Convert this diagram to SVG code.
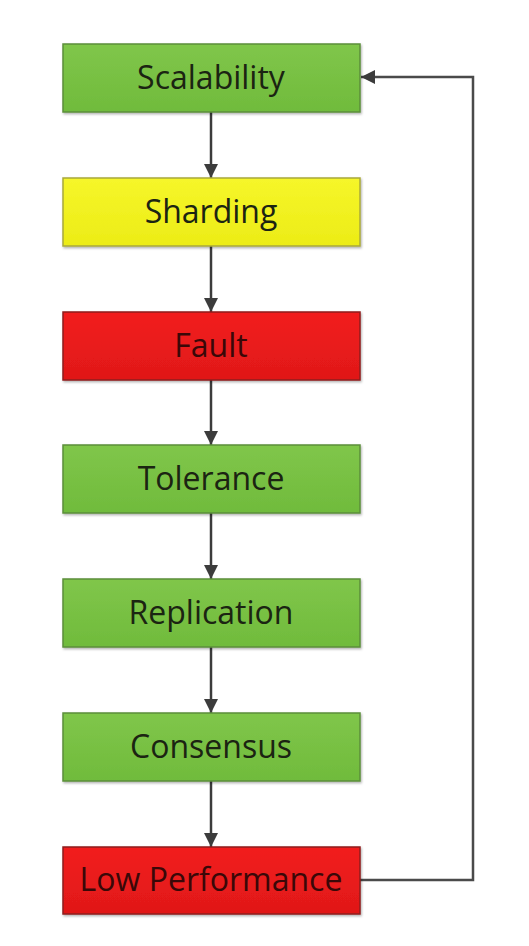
<svg xmlns="http://www.w3.org/2000/svg" width="529" height="946" viewBox="0 0 529 946">
<defs>
<linearGradient id="gG" x1="0" y1="0" x2="0" y2="1"><stop offset="0" stop-color="#80c64a"/><stop offset="1" stop-color="#70bb3c"/></linearGradient>
<linearGradient id="gY" x1="0" y1="0" x2="0" y2="1"><stop offset="0" stop-color="#f6f62a"/><stop offset="1" stop-color="#ecec16"/></linearGradient>
<linearGradient id="gR" x1="0" y1="0" x2="0" y2="1"><stop offset="0" stop-color="#f21e1e"/><stop offset="1" stop-color="#e01818"/></linearGradient>
<marker id="ah" viewBox="0 0 14 14" refX="14" refY="7" markerWidth="14" markerHeight="14" markerUnits="userSpaceOnUse" orient="auto">
<path d="M0,0 L14,7 L0,14 Z" fill="#3c3c3c"/>
</marker>
<filter id="sh" x="-5%" y="-10%" width="110%" height="125%"><feDropShadow dx="1" dy="1.5" stdDeviation="1" flood-color="#000" flood-opacity="0.3"/></filter>
</defs>
<style>
.box{stroke-width:1.5;filter:url(#sh)}
.g{fill:url(#gG);stroke:#5c8e3a}
.y{fill:url(#gY);stroke:#a9a93a}
.r{fill:url(#gR);stroke:#8e1d1d}
.t{font-family:"Open Sans","DejaVu Sans",sans-serif;font-size:32px;text-anchor:middle;fill:#1b2412}
.tr{fill:#3a0808}
.c{fill:none;stroke:#3c3c3c;stroke-width:2.5;marker-end:url(#ah)}
.c2{fill:none;stroke:#4a4a4a;stroke-width:2.5;marker-end:url(#ah)}
</style>
<rect width="529" height="946" fill="#ffffff"/>
<g id="connectors">
<line class="c" x1="211" y1="112" x2="211" y2="178"/>
<line class="c" x1="211" y1="246" x2="211" y2="312"/>
<line class="c" x1="211" y1="380" x2="211" y2="445"/>
<line class="c" x1="211" y1="513" x2="211" y2="579"/>
<line class="c" x1="211" y1="647" x2="211" y2="713"/>
<line class="c" x1="211" y1="781" x2="211" y2="847"/>
<polyline class="c2" points="360,880 473,880 473,77 361,77"/>
</g>
<g id="scalability"><rect class="box g" x="63" y="44" width="297" height="68"/><text class="t" x="211" y="89">Scalability</text></g>
<g id="sharding"><rect class="box y" x="63" y="178" width="297" height="68"/><text class="t" x="211" y="223">Sharding</text></g>
<g id="fault"><rect class="box r" x="63" y="312" width="297" height="68"/><text class="t tr" x="211" y="357">Fault</text></g>
<g id="tolerance"><rect class="box g" x="63" y="445" width="297" height="68"/><text class="t" x="211" y="490">Tolerance</text></g>
<g id="replication"><rect class="box g" x="63" y="579" width="297" height="68"/><text class="t" x="211" y="624">Replication</text></g>
<g id="consensus"><rect class="box g" x="63" y="713" width="297" height="68"/><text class="t" x="211" y="758">Consensus</text></g>
<g id="low-performance"><rect class="box r" x="63" y="847" width="297" height="67"/><text class="t tr" x="211" y="891">Low Performance</text></g>
</svg>
